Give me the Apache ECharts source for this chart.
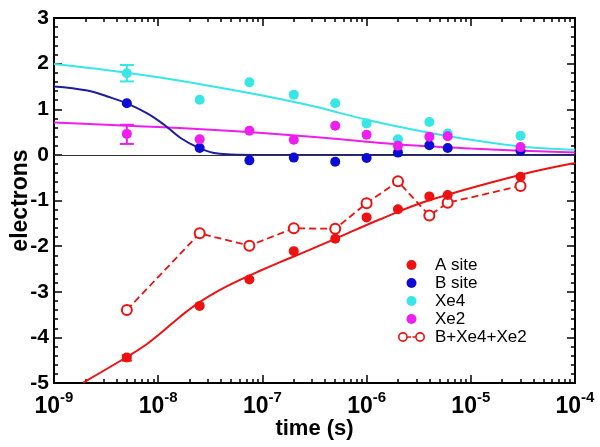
<!DOCTYPE html>
<html><head><meta charset="utf-8">
<script src="https://cdn.jsdelivr.net/npm/echarts@6/dist/echarts.min.js"></script>
<style>html,body{margin:0;padding:0;background:#fff}#c{width:600px;height:447px}</style>
</head><body><div id="c"></div>
<script>
// ---- data ----
const times = [5e-9, 2.5e-8, 7.5e-8, 2e-7, 5e-7, 1e-6, 2e-6, 4e-6, 6e-6, 3e-5];
const aSite = [-4.44, -3.31, -2.73, -2.11, -1.84, -1.37, -1.19, -0.91, -0.88, -0.48];
const bSite = [1.13, 0.15, -0.12, -0.06, -0.15, -0.07, 0.05, 0.21, 0.15, 0.09];
const xe4   = [1.79, 1.21, 1.59, 1.32, 1.13, 0.69, 0.34, 0.72, 0.47, 0.42];
const xe2   = [0.46, 0.34, 0.53, 0.33, 0.64, 0.44, 0.20, 0.40, 0.41, 0.17];
const sumBXe = [-3.40, -1.72, -1.99, -1.61, -1.62, -1.06, -0.58, -1.33, -1.05, -0.68];

// fitted curves
const fitX   = [1e-9, 3.16e-9, 1e-8, 3.16e-8, 1e-7, 3.16e-7, 1e-6, 3.16e-6, 1e-5, 3.16e-5, 1e-4];
const xe4Fit = [1.99, 1.86, 1.70, 1.51, 1.30, 1.06, 0.77, 0.53, 0.33, 0.18, 0.11];
const xe2Fit = [0.71, 0.66, 0.61, 0.55, 0.48, 0.39, 0.29, 0.20, 0.14, 0.09, 0.05];
const bFitX = [1e-9, 2.09e-9, 3.25e-9, 5e-9, 7.85e-9, 1.14e-8, 1.64e-8, 2.37e-8, 3.43e-8, 4.97e-8, 1e-7, 1e-6, 1e-5, 1e-4];
const bFit  = [1.50, 1.41, 1.28, 1.13, 0.91, 0.66, 0.37, 0.17, 0.04, 0.01, 0, 0, 0, 0];
const aFitX = [1.91e-9, 5e-9, 7.76e-9, 1.04e-8, 1.4e-8, 1.88e-8, 2.52e-8, 3.92e-8, 6.1e-8, 9.5e-8, 1.48e-7, 2.3e-7, 5e-7, 1.35e-6, 4.06e-6, 2.96e-5, 1e-4];
const aFit  = [-4.99, -4.43, -4.15, -3.92, -3.67, -3.43, -3.22, -2.96, -2.74, -2.54, -2.35, -2.17, -1.84, -1.41, -0.99, -0.44, -0.18];

// error bars at the first time point: Xe4, Xe2, A site
const errX    = [5e-9, 5e-9, 5e-9];
const errLow  = [1.61, 0.24, -4.51];
const errHigh = [1.97, 0.66, -4.39];

// axis ticks
const xMajor = [1e-9, 1e-8, 1e-7, 1e-6, 1e-5, 1e-4];
const xMinor = [];
for (let e = -9; e < -4; e++) for (let m = 2; m <= 9; m++) xMinor.push(m * Math.pow(10, e));

// ---- styles ----
const FONT = 'Liberation Sans, Arial, Helvetica, sans-serif';
const RED = '#ee1111', BLUE = '#0c0cd4', BLUEFIT = '#1c1ca0', CYAN = '#38e6e6', MAG = '#ee1eee';
const errColors = [CYAN, MAG, RED];
const errCaps = [14, 14, 10];
const sumIcon = 'path://M0.1,5A4.9,4.9,0,1,1,9.9,5A4.9,4.9,0,1,1,0.1,5Z' +
  'M1.7,5A3.3,3.3,0,1,0,8.3,5A3.3,3.3,0,1,0,1.7,5Z' +
  'M17.1,5A4.9,4.9,0,1,1,26.9,5A4.9,4.9,0,1,1,17.1,5Z' +
  'M18.7,5A3.3,3.3,0,1,0,25.3,5A3.3,3.3,0,1,0,18.7,5Z' +
  'M9.6,4.2H13V5.8H9.6Z' + 'M14.4,4.2H17.4V5.8H14.4Z';

const zip = (xs, ys) => xs.map((x, i) => [x, ys[i]]);

function xAxisDef(pos, ticks, len, withLabels) {
  const ax = {
    type: 'log', logBase: 10, min: 1e-9, max: 1e-4, position: pos,
    axisLine: {show: true, onZero: false, lineStyle: {color: '#000', width: 2}},
    splitLine: {show: false},
    axisTick: {show: true, inside: true, length: len, customValues: ticks, lineStyle: {color: '#000', width: 1.5}},
    axisLabel: {show: false, customValues: ticks}
  };
  if (withLabels) {
    ax.axisLabel = {
      show: true, customValues: ticks, margin: 7,
      formatter: v => '{b|10}{s|' + Math.round(Math.log10(v)) + '}',
      rich: {
        b: {fontSize: 23, fontWeight: 'bold', fontFamily: FONT, color: '#000', lineHeight: 28, verticalAlign: 'bottom'},
        s: {fontSize: 15, fontWeight: 'bold', fontFamily: FONT, color: '#000', lineHeight: 15, verticalAlign: 'top'}
      }
    };
    ax.name = 'time (s)';
    ax.nameLocation = 'middle';
    ax.nameGap = 35;
    ax.nameMoveOverlap = false;
    ax.nameTextStyle = {fontSize: 22, fontWeight: 'bold', fontFamily: FONT, color: '#000'};
  }
  return ax;
}

function yAxisDef(pos, withLabels) {
  const ax = {
    type: 'value', min: -5, max: 3, interval: 1, position: pos,
    axisLine: {show: true, onZero: false, lineStyle: {color: '#000', width: 2}},
    splitLine: {show: false},
    axisTick: {show: true, inside: true, length: 8, lineStyle: {color: '#000', width: 1.5}},
    minorTick: {show: true, splitNumber: 5, length: 4, lineStyle: {color: '#000', width: 1.5}},
    axisLabel: {show: withLabels, margin: 5, fontSize: 21, fontWeight: 'bold', fontFamily: FONT, color: '#000'}
  };
  if (withLabels) {
    ax.name = 'electrons';
    ax.nameLocation = 'middle';
    ax.nameGap = 22;
    ax.nameMoveOverlap = false;
    ax.nameRotate = 90;
    ax.nameTextStyle = {fontSize: 23, fontWeight: 'bold', fontFamily: FONT, color: '#000'};
  }
  return ax;
}

const chart = echarts.init(document.getElementById('c'), null, {renderer: 'canvas'});
chart.setOption({
  backgroundColor: '#fff',
  animation: false,
  grid: {left: 54, right: 25, top: 18, bottom: 64, containLabel: false, outerBoundsMode: 'none'},
  xAxis: [
    xAxisDef('bottom', xMajor, 8, true),
    xAxisDef('bottom', xMinor, 4, false),
    xAxisDef('top', xMajor, 8, false),
    xAxisDef('top', xMinor, 4, false)
  ],
  yAxis: [yAxisDef('left', true), yAxisDef('right', false)],
  legend: {
    orient: 'vertical', left: 393, top: 251, itemWidth: 27, itemHeight: 10, itemGap: 0,
    selectedMode: false,
    data: [
      {name: 'A site', icon: 'circle'},
      {name: 'B site', icon: 'circle'},
      {name: 'Xe4', icon: 'circle'},
      {name: 'Xe2', icon: 'circle'},
      {name: 'B+Xe4+Xe2', icon: sumIcon, itemStyle: {color: RED, borderWidth: 0}}
    ],
    textStyle: {fontSize: 17, color: '#000', fontFamily: FONT, lineHeight: 18, padding: [0, 0, 0, 5]}
  },
  series: [
    {
      name: 'A fit', type: 'line', data: zip(aFitX, aFit), smooth: 0.4, symbol: 'none',
      lineStyle: {color: RED, width: 2}, itemStyle: {color: RED}, z: 2, silent: true,
      markLine: {
        silent: true, symbol: ['none', 'none'], label: {show: false},
        lineStyle: {color: '#333', width: 1, type: 'solid'},
        data: [{yAxis: 0}]
      }
    },
    {name: 'Xe4 fit', type: 'line', data: zip(fitX, xe4Fit), smooth: 0.3, symbol: 'none',
      lineStyle: {color: CYAN, width: 2}, z: 2, silent: true},
    {name: 'Xe2 fit', type: 'line', data: zip(fitX, xe2Fit), smooth: 0.3, symbol: 'none',
      lineStyle: {color: MAG, width: 2}, z: 2, silent: true},
    {name: 'B fit', type: 'line', data: zip(bFitX, bFit), smooth: 0.4, symbol: 'none',
      lineStyle: {color: BLUEFIT, width: 2}, z: 3, silent: true},
    {
      name: 'B+Xe4+Xe2', type: 'line', data: zip(times, sumBXe), symbol: 'emptyCircle', symbolSize: 10,
      lineStyle: {color: RED, width: 1.8, type: [7, 4]},
      itemStyle: {color: RED, borderColor: RED, borderWidth: 1.8}, z: 4
    },
    {
      name: 'errbars', type: 'custom', z: 4, silent: true,
      data: errX.map((x, i) => [x, errLow[i], errHigh[i], i]),
      encode: {x: 0, y: [1, 2]},
      renderItem: (params, api) => {
        const x = api.value(0), i = api.value(3);
        const lo = api.coord([x, api.value(1)]);
        const hi = api.coord([x, api.value(2)]);
        const w = errCaps[i] / 2;
        const st = {stroke: errColors[i], lineWidth: 2};
        return {type: 'group', children: [
          {type: 'line', shape: {x1: lo[0], y1: lo[1], x2: hi[0], y2: hi[1]}, style: st},
          {type: 'line', shape: {x1: lo[0] - w, y1: lo[1], x2: lo[0] + w, y2: lo[1]}, style: st},
          {type: 'line', shape: {x1: hi[0] - w, y1: hi[1], x2: hi[0] + w, y2: hi[1]}, style: st}
        ]};
      }
    },
    {name: 'A site', type: 'scatter', data: zip(times, aSite), symbol: 'circle', symbolSize: 10,
      itemStyle: {color: RED, opacity: 1}, z: 5},
    {name: 'B site', type: 'scatter', data: zip(times, bSite), symbol: 'circle', symbolSize: 10,
      itemStyle: {color: BLUE, opacity: 1}, z: 5},
    {name: 'Xe4', type: 'scatter', data: zip(times, xe4), symbol: 'circle', symbolSize: 10,
      itemStyle: {color: CYAN, opacity: 1}, z: 5},
    {name: 'Xe2', type: 'scatter', data: zip(times, xe2), symbol: 'circle', symbolSize: 10,
      itemStyle: {color: MAG, opacity: 1}, z: 5}
  ]
});
</script>
</body></html>
